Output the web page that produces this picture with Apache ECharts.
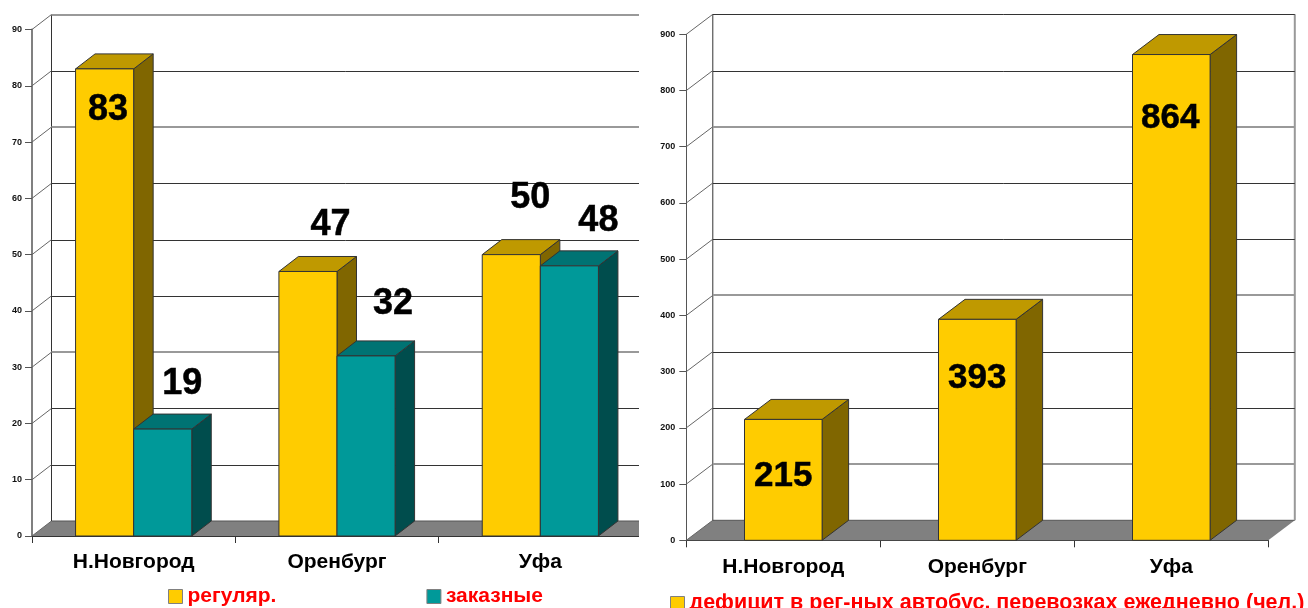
<!DOCTYPE html>
<html>
<head>
<meta charset="UTF-8">
<script src="https://cdn.jsdelivr.net/npm/echarts@6/dist/echarts.min.js"></script>
<title>Автобусы</title>
<style>
	body { margin: 0; background: #fff; }
	#main { width: 1308px; height: 608px; }
</style>
</head>
<body>
<div id="main"></div>
<script type="text/javascript">
	var cities = ["Н.Новгород", "Оренбург", "Уфа"];
	var regular = [83, 47, 50];
	var charter = [19, 32, 48];
	var deficit = [215, 393, 864];
	var leftTicks = [0, 10, 20, 30, 40, 50, 60, 70, 80, 90];
	var rightTicks = [0, 100, 200, 300, 400, 500, 600, 700, 800, 900];

	var regularName = "регуляр.";
	var charterName = "заказные";
	var deficitName = "дефицит в рег-ных автобус. перевозках ежедневно (чел.)";

	var yellow = { front: "#ffcc00", top: "#bf9900", side: "#806600" };
	var teal = { front: "#009999", top: "#007373", side: "#004d4d" };
	var edge = "#333333";

	// depth of the fake 3d box, per chart
	var leftDepth = { dx: 19.5, dy: -15 };
	var rightDepth = { dx: 26.5, dy: -20 };

	// wall lines that look washed out in the scan
	var leftSoft = [90, 70, 30];
	var rightSoft = [700, 400, 100];

	// the left picture is cut off at this x
	var leftCut = 639;

	// where each value label sits, relative to the top centre of its bar
	var regularLabelPos = [[3.5, 41], [22.5, -46], [19, -57]];
	var charterLabelPos = [[19.5, -45], [27, -52], [29, -45]];
	var deficitLabelPos = [[0, 56.5], [0, 58.5], [-1, 64]];

	function wallSeries(ticks, gridIndex, depth, soft, cutX) {
		return {
			type: "custom",
			silent: true,
			xAxisIndex: gridIndex,
			yAxisIndex: gridIndex,
			z: 1,
			encode: { x: 0, y: 1 },
			data: ticks.map(function (t) { return [0, t]; }),
			renderItem: function (params, api) {
				var box = params.coordSys;
				var v = api.value(1);
				var y = api.coord([0, v])[1];
				var x0 = box.x;
				var x1 = box.x + box.width;
				var backX = Math.min(x1 + depth.dx, cutX);
				var backY = y + depth.dy;
				var isSoft = soft.indexOf(v) >= 0;
				var items = [];
				items.push({
					type: "line",
					shape: { x1: x0, y1: y, x2: x0 + depth.dx, y2: backY },
					style: { stroke: "#666", lineWidth: 1 }
				});
				if (v === 0) {
					items.unshift({
						type: "polygon",
						shape: { points: [[x0, y], [x0 + depth.dx, backY], [backX, backY], [Math.min(x1, cutX), y]] },
						style: { fill: "#808080" }
					});
					items.push({
						type: "line",
						shape: { x1: x0 + depth.dx, y1: backY, x2: backX, y2: backY },
						style: { stroke: "#555", lineWidth: 1 }
					});
					// back wall edges
					items.push({
						type: "line",
						shape: { x1: x0 + depth.dx, y1: box.y + depth.dy, x2: x0 + depth.dx, y2: backY },
						style: { stroke: edge, lineWidth: 1 }
					});
					if (x1 + depth.dx <= cutX) {
						items.push({
							type: "line",
							shape: { x1: backX, y1: box.y + depth.dy, x2: backX, y2: backY },
							style: { stroke: "#999999", lineWidth: 2 }
						});
					}
				} else {
					var lineY = isSoft ? Math.round(backY) : Math.round(backY) + 0.5;
					items.push({
						type: "line",
						shape: { x1: x0 + depth.dx, y1: lineY, x2: backX, y2: lineY },
						style: isSoft ? { stroke: "#999", lineWidth: 2 } : { stroke: edge, lineWidth: 1 }
					});
				}
				return { type: "group", children: items };
			}
		};
	}

	function barSeries(name, values, gridIndex, colors, depth, barShare, shift, labelPos, fontSize) {
		return {
			name: name,
			type: "custom",
			xAxisIndex: gridIndex,
			yAxisIndex: gridIndex,
			z: 2,
			itemStyle: { color: colors.front },
			encode: { x: 0, y: 1 },
			data: values.map(function (v, i) { return [i, v]; }),
			renderItem: function (params, api) {
				var i = api.value(0);
				var v = api.value(1);
				var top = api.coord([i, v]);
				var base = api.coord([i, 0]);
				var w = api.size([1, 0])[0] * barShare;
				var x0 = top[0] + shift * w - w / 2;
				var x1 = x0 + w;
				var border = { stroke: edge, lineWidth: 1 };
				var pos = labelPos[i];
				return {
					type: "group",
					children: [
						{
							type: "polygon",
							shape: { points: [[x1, top[1]], [x1 + depth.dx, top[1] + depth.dy], [x1 + depth.dx, base[1] + depth.dy], [x1, base[1]]] },
							style: Object.assign({ fill: colors.side }, border)
						},
						{
							type: "polygon",
							shape: { points: [[x0, top[1]], [x0 + depth.dx, top[1] + depth.dy], [x1 + depth.dx, top[1] + depth.dy], [x1, top[1]]] },
							style: Object.assign({ fill: colors.top }, border)
						},
						{
							type: "rect",
							shape: { x: x0, y: top[1], width: w, height: base[1] - top[1] },
							style: Object.assign({ fill: colors.front }, border)
						},
						{
							type: "text",
							z2: 10,
							style: {
								text: String(v),
								x: x0 + w / 2 + pos[0],
								y: top[1] + pos[1],
								align: "center",
								verticalAlign: "middle",
								fill: "#000",
								stroke: "#000",
								lineWidth: 0.5,
								font: "bold " + fontSize + "px 'Liberation Sans'"
							}
						}
					]
				};
			}
		};
	}

	function xAxisFor(gridIndex) {
		return {
			type: "category",
			gridIndex: gridIndex,
			data: cities,
			axisLine: { lineStyle: { color: edge, width: 1 } },
			axisTick: { show: true, length: 7, lineStyle: { color: edge } },
			axisLabel: { margin: 16, fontFamily: "Liberation Sans", fontWeight: "bold", fontSize: 21, color: "#000" },
			splitLine: { show: false }
		};
	}

	function yAxisFor(gridIndex, ticks, lineColor, lineWidth, labelMargin) {
		return {
			type: "value",
			gridIndex: gridIndex,
			min: ticks[0],
			max: ticks[ticks.length - 1],
			interval: ticks[1] - ticks[0],
			axisLine: { show: true, lineStyle: { color: lineColor, width: lineWidth } },
			axisTick: { show: true, length: 7, lineStyle: { color: "#555" } },
			axisLabel: { margin: labelMargin, fontFamily: "Liberation Sans", fontWeight: "bold", fontSize: 9, color: "#111" },
			splitLine: { show: false }
		};
	}

	function legendFor(names, left, top, fontSize) {
		return {
			data: names,
			left: left,
			top: top,
			padding: 0,
			icon: "rect",
			itemWidth: 14,
			itemHeight: 14,
			itemGap: 150,
			selectedMode: false,
			itemStyle: { borderColor: "#808080", borderWidth: 1 },
			textStyle: { color: "#ff0000", fontFamily: "Liberation Sans", fontWeight: "bold", fontSize: fontSize }
		};
	}

	var myChart = echarts.init(document.getElementById("main"), null, { renderer: "canvas" });
	myChart.setOption({
		animation: false,
		backgroundColor: "#fff",
		grid: [
			{ left: 32, top: 29.5, width: 610, height: 506.5 },
			{ left: 686.3, top: 34.3, width: 582, height: 506 }
		],
		xAxis: [xAxisFor(0), xAxisFor(1)],
		yAxis: [yAxisFor(0, leftTicks, "#808080", 2, 10), yAxisFor(1, rightTicks, "#555", 1, 11)],
		legend: [
			legendFor([regularName, charterName], 168, 586, 21),
			legendFor([deficitName], 670, 592.5, 21.5)
		],
		// hides the end of the left x axis past the cut
		graphic: [{ type: "rect", z: 100, shape: { x: leftCut, y: 530, width: 10, height: 20 }, style: { fill: "#fff" } }],
		series: [
			wallSeries(leftTicks, 0, leftDepth, leftSoft, leftCut),
			wallSeries(rightTicks, 1, rightDepth, rightSoft, Infinity),
			barSeries(regularName, regular, 0, yellow, leftDepth, 0.2857, -0.5, regularLabelPos, 36),
			barSeries(charterName, charter, 0, teal, leftDepth, 0.2857, 0.5, charterLabelPos, 36),
			barSeries(deficitName, deficit, 1, yellow, rightDepth, 0.4, 0, deficitLabelPos, 35)
		]
	});
</script>
</body>
</html>
